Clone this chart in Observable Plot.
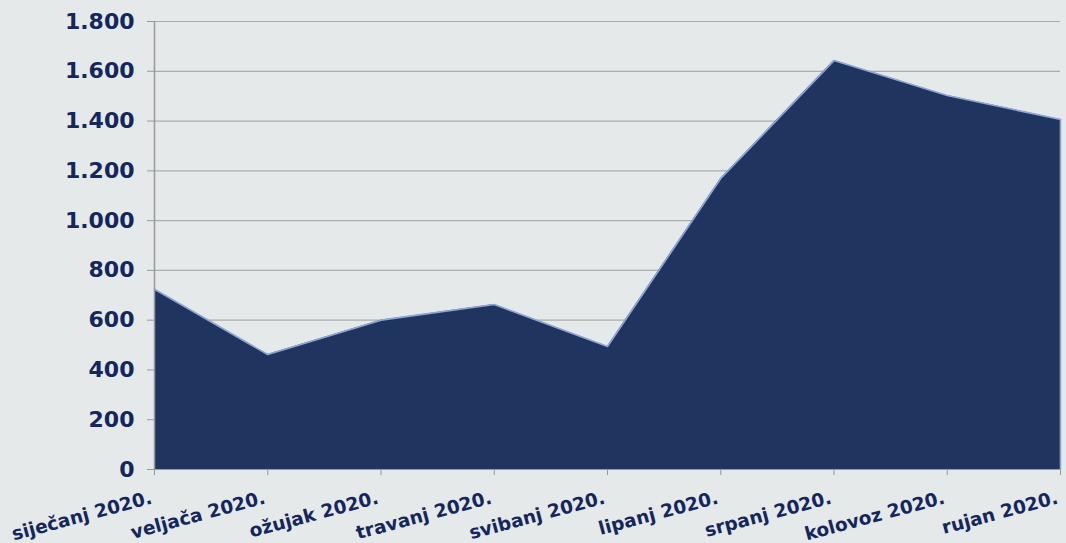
<!DOCTYPE html>
<html>
<head>
<meta charset="utf-8">
<script src="https://cdn.jsdelivr.net/npm/d3@7"></script>
<script src="https://cdn.jsdelivr.net/npm/@observablehq/plot@0.6"></script>
<style>
  html, body { margin: 0; padding: 0; background: #e5e9ea; }
  #chart { width: 1066px; height: 543px; overflow: hidden; }
  svg { font-family: "DejaVu Sans", Verdana, sans-serif; }
</style>
</head>
<body>
<div id="chart"></div>
<script>
const months = ["siječanj 2020.", "veljača 2020.", "ožujak 2020.", "travanj 2020.", "svibanj 2020.", "lipanj 2020.", "srpanj 2020.", "kolovoz 2020.", "rujan 2020."];
const values = [724, 462, 600, 663, 494, 1169, 1643, 1503, 1406];
const yTicks = [0, 200, 400, 600, 800, 1000, 1200, 1400, 1600, 1800];

const navy = "#13275e";
const data = months.map((m, i) => ({i, m, v: values[i]}));
const idx = months.map((m, i) => i);
const fmt = d => d3.format(",")(d).replace(/,/g, ".");

const chart = Plot.plot({
  width: 1066,
  height: 543,
  marginLeft: 154,
  marginRight: 6,
  marginTop: 21,
  marginBottom: 74,
  style: {background: "#e5e9ea", overflow: "visible"},
  x: {type: "linear", domain: [0, months.length - 1], axis: null},
  y: {domain: [0, 1800], axis: null},
  marks: [
    Plot.gridY(yTicks, {stroke: "#a9adae", strokeOpacity: 1, strokeWidth: 1.2}),
    Plot.areaY(data, {x: "i", y: "v", fill: "#1f345f"}),
    Plot.lineY(data, {x: "i", y: "v", stroke: "#8ea7d6", strokeWidth: 1.6}),
    Plot.ruleX([months.length - 1], {y1: 0, y2: d => values[values.length - 1], stroke: "#8ea7d6", strokeWidth: 1.6}),
    Plot.axisY({ticks: yTicks, label: null, tickSize: 7, tickPadding: 13, stroke: "#999", fill: navy,
      tickFormat: fmt, fontSize: 22, fontWeight: "bold"}),
    Plot.axisX({ticks: idx, label: null, tickSize: 6, stroke: "#999", tickFormat: () => ""}),
    Plot.ruleX([0], {stroke: "#999", strokeWidth: 1.5}),
    Plot.ruleY([0], {stroke: "#999", strokeWidth: 1.2}),
    Plot.text(data, {x: "i", y: 0, text: "m", rotate: -15, textAnchor: "end", dy: 28, dx: -3,
      fill: navy, fontSize: 18.5, fontWeight: "bold"})
  ]
});
document.getElementById("chart").appendChild(chart);
</script>
</body>
</html>
